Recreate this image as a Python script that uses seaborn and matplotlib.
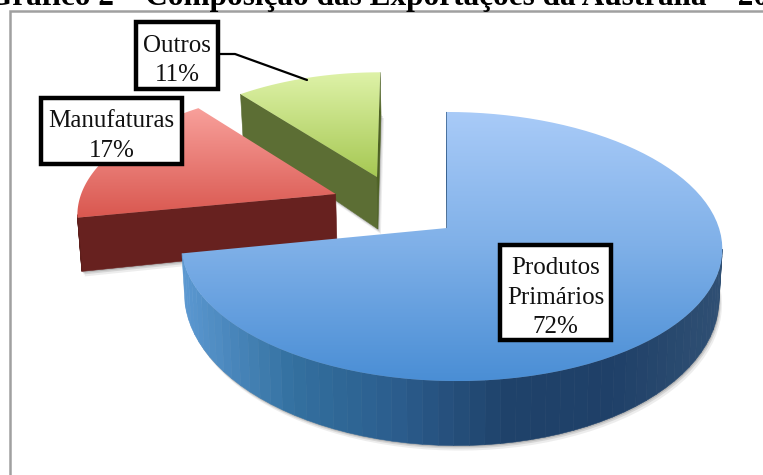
import numpy as np
import seaborn as sns
import matplotlib.pyplot as plt
from matplotlib.patches import Polygon, Rectangle

categorias = ["Produtos\nPrimários", "Manufaturas", "Outros"]
valores = [72, 17, 11]
titulo = "Gráfico 2 – Composição das Exportações da Austrália – 2011"

sns.set_theme(style="white")
plt.rcParams["font.family"] = ["Liberation Serif", "DejaVu Serif"]

# projecao em perspectiva do disco (pixels da imagem)
X0, Y0 = 447, 228
RX, RY, K = 272, 132, 0.1376
SKEW = 0.034


def projeta(u, v):
    w = 1 + K * v
    x = X0 + RX * u / w + SKEW * (-RY * v / w)
    y = Y0 - RY * v / w
    return x, y, w


# deslocamento do centro, ajuste do arco, largura e altura de cada fatia
explosao = [(0, 0), (-0.42, 0.267), (-0.265, 0.408)]
ajuste_arco = [0.015, 0.03, -0.005]
largura = [0.985, 1.0, 0.93]
alturas = [48, 55, 58]
cores_topo = [["#a9cbf8", "#7fb0e8", "#4a8ed5"], ["#f8a09b", "#d9574f"], ["#def2a8", "#a6c853"]]
cores_lado = [["#5a97d0", "#33709f", "#2b5c8c", "#1f426a", "#1f4068", "#2f4f73"],
              ["#5e1f1c", "#67211f", "#6e2b2a"], ["#68793f", "#5b6d33", "#4d6122"]]

fig = plt.figure(figsize=(7.63, 4.75), dpi=100)
ax = fig.add_axes([0, 0, 1, 1])
ax.set_xlim(0, 763)
ax.set_ylim(475, 0)
ax.axis("off")

ax.add_patch(Rectangle((10, 11), 800, 500, fc="white", ec="#a0a0a0", lw=1.8, zorder=0))
ax.text(-12, 5, titulo, ha="left", va="baseline", fontsize=22.5, fontweight="bold", color="black", zorder=1)

# angulos acumulados a partir do topo, sentido horario
fim = np.cumsum(valores) / sum(valores) * 2 * np.pi
inicio = np.r_[0, fim[:-1]]

# desenha de tras para frente: Outros, Manufaturas, Produtos
for i in [2, 1, 0]:
    du, dv = explosao[i]
    t = np.linspace(inicio[i], fim[i], 90)
    u = np.r_[du, du + ajuste_arco[i] + largura[i] * np.sin(t)]
    v = np.r_[dv, dv + np.cos(t)]
    x, y, w = projeta(u, v)
    xb = X0 + (x - X0) * 0.988
    yb = y + alturas[i] / w ** 2
    n = len(x)

    # sombra sob a parede
    contorno = np.c_[xb, yb]
    for desloc, alfa in [(5, 0.10), (3, 0.16), (1.5, 0.22)]:
        ax.add_patch(Polygon(contorno + [desloc * 0.6, desloc], fc="#555555", ec="none", alpha=alfa, zorder=2 + 3 * (2 - i)))

    # parede lateral: so os trechos virados para frente, cor conforme x
    cmap_lado = sns.blend_palette(cores_lado[i], as_cmap=True)
    faixa = (xb.min(), xb.max())
    for a in range(n):
        b = (a + 1) % n
        if x[b] >= x[a]:
            continue
        pos = (x[a] + x[b]) / 2
        cor = cmap_lado((pos - faixa[0]) / (faixa[1] - faixa[0]))
        quad = [(x[a], y[a]), (x[b], y[b]), (xb[b], yb[b]), (xb[a], yb[a])]
        ax.add_patch(Polygon(quad, fc=cor, ec=cor, lw=0.4, zorder=3 + 3 * (2 - i)))

    # face superior com gradiente vertical
    cmap_topo = sns.blend_palette(cores_topo[i], as_cmap=True)
    gradiente = np.linspace(0, 1, 256).reshape(-1, 1)
    img = ax.imshow(gradiente, cmap=cmap_topo, aspect="auto", origin="upper",
                    extent=(x.min(), x.max(), y.max(), y.min()), zorder=4 + 3 * (2 - i))
    img.set_clip_path(Polygon(np.c_[x, y], transform=ax.transData))

ax.set_xlim(0, 763)
ax.set_ylim(475, 0)

# linha de chamada de Outros
ax.plot([220, 235, 307], [54, 54, 80], color="black", lw=1.6, zorder=20)

# caixas dos rotulos
caixas = [(500, 245, 111, 95), (41, 98, 141, 66), (136, 22, 82, 67)]
for nome, valor, (bx, by, bw, bh) in zip(categorias, valores, caixas):
    ax.add_patch(Rectangle((bx, by), bw, bh, fc="white", ec="black", lw=3.2, zorder=21))
    ax.text(bx + bw / 2, by + bh / 2 + 5, f"{nome}\n{valor}%", ha="center", va="center",
            fontsize=18, linespacing=1.45, color="#111111", zorder=22)

fig.savefig("out.png", dpi=100)
